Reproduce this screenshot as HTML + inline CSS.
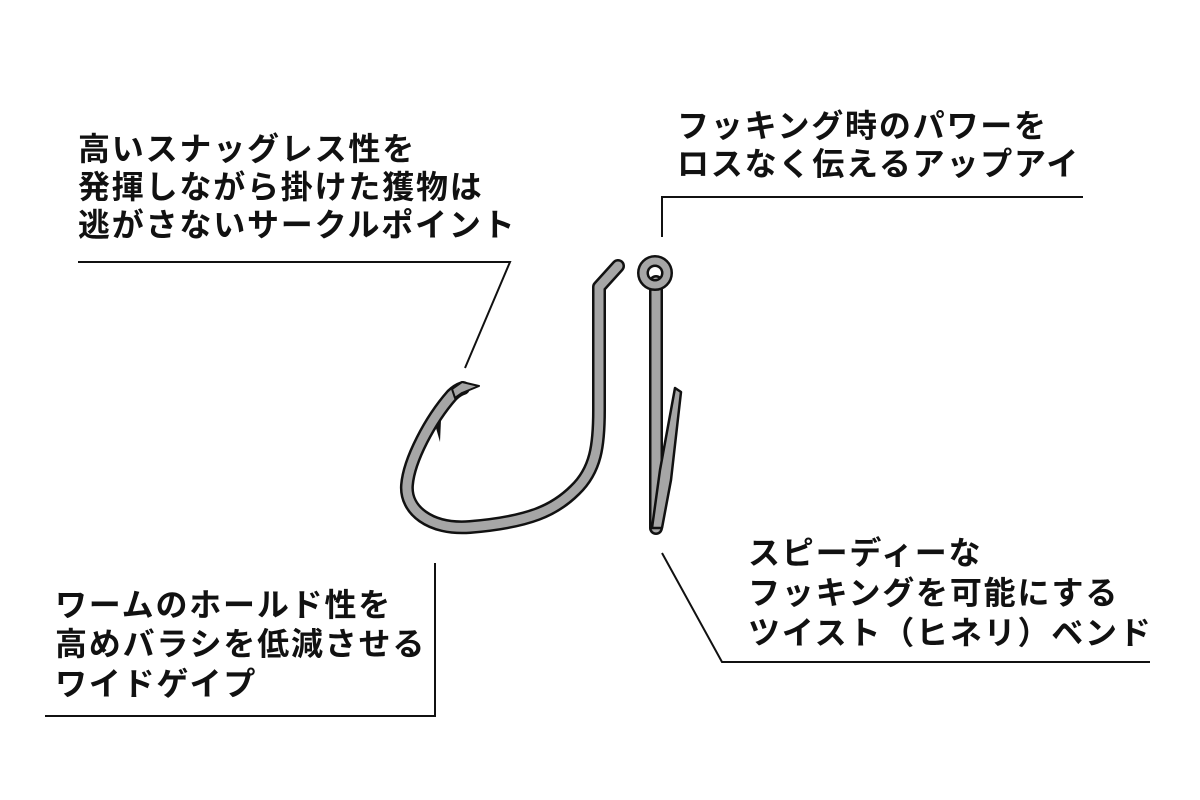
<!DOCTYPE html>
<html><head><meta charset="utf-8"><style>
html,body{margin:0;padding:0;background:#fff}
svg{display:block}
text{font-family:"Liberation Sans","Noto Sans CJK JP",sans-serif;font-weight:bold;font-size:32px;letter-spacing:1.8px;fill:#111}
</style></head><body>
<svg width="1200" height="800" viewBox="0 0 1200 800">
<g fill="none" stroke="#111" stroke-width="2">
<polyline points="78,262 510,262 465,368"/>
<polyline points="662,237 662,197 1083,197"/>
<polyline points="662,553 722,662 1150,662"/>
<polyline points="45,716 435,716 435,563"/>
</g>
<text x="78" y="160">高いスナッグレス性を</text>
<text x="78" y="198">発揮しながら掛けた獲物は</text>
<text x="78" y="236">逃がさないサークルポイント</text>
<text x="677" y="137">フッキング時のパワーを</text>
<text x="677" y="175">ロスなく伝えるアップアイ</text>
<text x="748" y="564">スピーディーな</text>
<text x="748" y="604">フッキングを可能にする</text>
<text x="748" y="644">ツイスト（ヒネリ）ベンド</text>
<text x="55" y="616">ワームのホールド性を</text>
<text x="55" y="655">高めバラシを低減させる</text>
<text x="55" y="695">ワイドゲイプ</text>
<g fill="none" stroke-linecap="round" stroke-linejoin="round">
<path id="h" d="M618,266 L599,287 L599,410 C599,445 596,470 575,490 C555,510 530,522 470,527 C430,530 405,510 407,485 C409,460 430,420 452,395 C456,391 460,389 463,388"/>
<use href="#h" stroke="#111" stroke-width="14"/>
<use href="#h" stroke="#a6a6a6" stroke-width="9"/>
</g>
<polygon points="452,389 462,382 479,386 462,393 455,398" fill="#a6a6a6" stroke="#111" stroke-width="2" stroke-linejoin="round"/>
<polygon points="436,428 441,420 440,442" fill="#111"/>
<g stroke-linecap="round" stroke-linejoin="round">
<line x1="656" y1="282" x2="656" y2="528" stroke="#111" stroke-width="14"/>
<line x1="656" y1="282" x2="656" y2="528" stroke="#a6a6a6" stroke-width="9"/>
<polygon points="675,388 681,392 671,480 662,528 652,528 660,470" fill="#a6a6a6" stroke="#111" stroke-width="2.5"/>
<circle cx="655" cy="273" r="12" fill="none" stroke="#111" stroke-width="12"/>
<circle cx="655" cy="273" r="12" fill="none" stroke="#a6a6a6" stroke-width="7"/>
</g>
</svg>
</body></html>
